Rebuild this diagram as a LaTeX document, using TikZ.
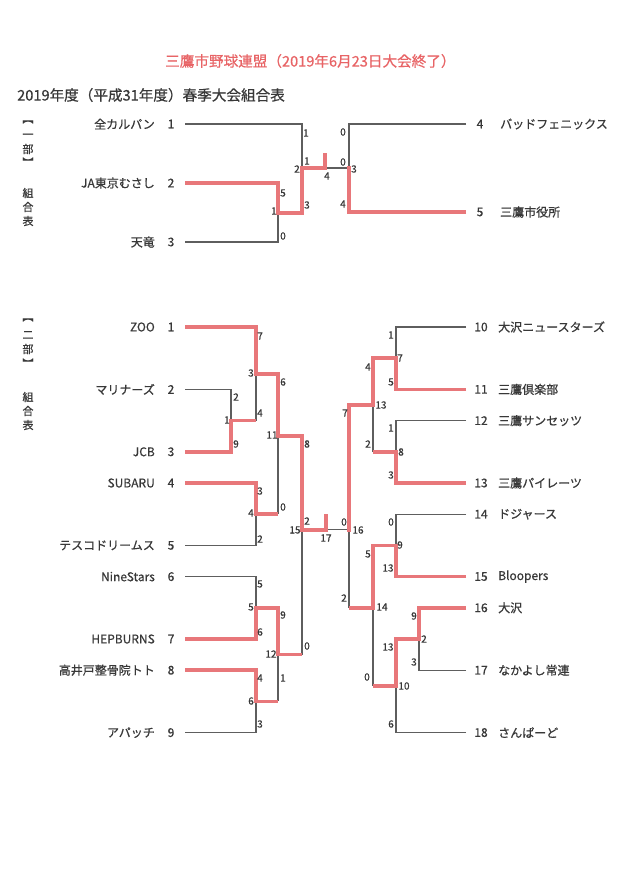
\documentclass[tikz,border=0pt]{standalone}
\usepackage{fontspec}
\newfontfamily\jp{Noto Sans CJK JP}[FakeBold=0.6]
\definecolor{redc}{HTML}{E8777A}
\definecolor{titlered}{HTML}{E86466}
\definecolor{lineg}{HTML}{5E5E5E}
\definecolor{textg}{HTML}{383838}
\begin{document}
\begin{tikzpicture}[x=1pt,y=-1pt,
  g/.style={draw=lineg,line width=1.1pt},
  r/.style={draw=redc,line width=3.6pt,line join=miter},
  team/.style={font=\jp\fontsize{12}{12}\selectfont,text=textg,inner sep=0pt},
  sc/.style={font=\jp\fontsize{10}{10}\selectfont,text=textg,inner sep=0pt},
  lab/.style={font=\jp\fontsize{11}{11}\selectfont,text=textg,inner sep=0pt}]
\fill[white] (0,0) rectangle (644,881);
\useasboundingbox (0,0) rectangle (644,881);

% titles
\node[anchor=west,inner sep=0pt,text=titlered,font=\jp\fontsize{14.6}{14.6}\selectfont] (title) at (165,61) {三鷹市野球連盟（2019年6月23日大会終了）};
\node[anchor=west,inner sep=0pt,text=textg,font=\jp\fontsize{14.6}{14.6}\selectfont] (subtitle) at (17,95) {2019年度（平成31年度）春季大会組合表};

% side labels
\node[lab] (a1) at (28,122) {︻};
\node[lab] (a2) at (28,136) {一};
\node[lab] (a3) at (28,149) {部};
\node[lab] (a4) at (28,162) {︼};
\node[lab] (a5) at (28,193) {組};
\node[lab] (a6) at (28,207) {合};
\node[lab] (a7) at (28,221) {表};
\node[lab] (b1) at (28,320) {︻};
\node[lab] (b2) at (28,335) {二};
\node[lab] (b3) at (28,349) {部};
\node[lab] (b4) at (28,363) {︼};
\node[lab] (b5) at (28,397) {組};
\node[lab] (b6) at (28,411) {合};
\node[lab] (b7) at (28,425) {表};

% ---------- section 1 ----------
\node[team,anchor=east] (n1) at (155,124) {全カルパン};
\node[team] (m1) at (171,124) {1};
\node[team,anchor=east] (n2) at (155,183) {JA東京むさし};
\node[team] (m2) at (171,183) {2};
\node[team,anchor=east] (n3) at (155,242) {天竜};
\node[team] (m3) at (171,242) {3};
\node[team] (m4) at (480,124) {4};
\node[team,anchor=west] (n4) at (500,124) {バッドフェニックス};
\node[team] (m5) at (480,212) {5};
\node[team,anchor=west] (n5) at (500,212) {三鷹市役所};

\draw[g] (185,124) -- (302,124) -- (302,168);
\draw[g] (185,242) -- (278,242) -- (278,213);
\draw[g] (325,168) -- (349,168);
\draw[g] (466,124) -- (349,124) -- (349,168);
\draw[r] (185,183) -- (278,183) -- (278,213) -- (302,213) -- (302,168) -- (325,168) -- (325,153);
\draw[r] (466,212) -- (349,212) -- (349,166.2);

\node[sc] (s101) at (306,133) {1};
\node[sc] (s102) at (297,169) {2};
\node[sc] (s103) at (307,161) {1};
\node[sc] (s104) at (307,205) {3};
\node[sc] (s105) at (327,176) {4};
\node[sc] (s106) at (283,193) {5};
\node[sc] (s107) at (274,211) {1};
\node[sc] (s108) at (283,236) {0};
\node[sc] (s109) at (343,132) {0};
\node[sc] (s110) at (343,162) {0};
\node[sc] (s111) at (354,169) {3};
\node[sc] (s112) at (343,204) {4};

% ---------- section 2 ----------
% left teams
\node[team,anchor=east] (L1) at (155,327) {ZOO};      \node[team] (l1) at (171,327) {1};
\node[team,anchor=east] (L2) at (155,389.4) {マリナーズ}; \node[team] (l2) at (171,389.4) {2};
\node[team,anchor=east] (L3) at (155,451.8) {JCB};    \node[team] (l3) at (171,451.8) {3};
\node[team,anchor=east] (L4) at (155,483) {SUBARU};   \node[team] (l4) at (171,483) {4};
\node[team,anchor=east] (L5) at (155,545.4) {テスコドリームス}; \node[team] (l5) at (171,545.4) {5};
\node[team,anchor=east] (L6) at (155,576.6) {NineStars}; \node[team] (l6) at (171,576.6) {6};
\node[team,anchor=east] (L7) at (155,639) {HEPBURNS}; \node[team] (l7) at (171,639) {7};
\node[team,anchor=east] (L8) at (155,670.2) {高井戸整骨院トト}; \node[team] (l8) at (171,670.2) {8};
\node[team,anchor=east] (L9) at (155,732.6) {アパッチ}; \node[team] (l9) at (171,732.6) {9};
% right teams
\node[team] (r10) at (481,327) {10};   \node[team,anchor=west] (R10) at (498,327) {大沢ニュースターズ};
\node[team] (r11) at (481,389.4) {11}; \node[team,anchor=west] (R11) at (498,389.4) {三鷹倶楽部};
\node[team] (r12) at (481,420.6) {12}; \node[team,anchor=west] (R12) at (498,420.6) {三鷹サンセッツ};
\node[team] (r13) at (481,483) {13};   \node[team,anchor=west] (R13) at (498,483) {三鷹パイレーツ};
\node[team] (r14) at (481,514.2) {14}; \node[team,anchor=west] (R14) at (498,514.2) {ドジャース};
\node[team] (r15) at (481,576.6) {15}; \node[team,anchor=west] (R15) at (498,576.6) {Bloopers};
\node[team] (r16) at (481,607.8) {16}; \node[team,anchor=west] (R16) at (498,607.8) {大沢};
\node[team] (r17) at (481,670.2) {17}; \node[team,anchor=west] (R17) at (498,670.2) {なかよし常連};
\node[team] (r18) at (481,732.6) {18}; \node[team,anchor=west] (R18) at (498,732.6) {さんぱーど};

% grey lines left
\draw[g] (185,389.4) -- (231,389.4) -- (231,420.6);
\draw[g] (256,373.8) -- (256,420.6);
\draw[g] (278,436.2) -- (278,514.2);
\draw[g] (185,545.4) -- (256,545.4) -- (256,514.2);
\draw[g] (185,576.6) -- (256,576.6) -- (256,607.8);
\draw[g] (185,732.6) -- (256,732.6) -- (256,701.4);
\draw[g] (278,654.6) -- (278,701.4);
\draw[g] (302,529.8) -- (302,654.6);
\draw[g] (326,529.8) -- (349,529.8);
% grey lines right
\draw[g] (466,327) -- (396,327) -- (396,358.2);
\draw[g] (466,420.6) -- (396,420.6) -- (396,451.8);
\draw[g] (373,405) -- (373,451.8);
\draw[g] (466,514.2) -- (396,514.2) -- (396,545.4);
\draw[g] (349,529.8) -- (349,607.8);
\draw[g] (373,607.8) -- (373,685.8);
\draw[g] (466,670.2) -- (419,670.2) -- (419,639);
\draw[g] (466,732.6) -- (396,732.6) -- (396,685.8);

% red lines left
\draw[r] (185,327) -- (256,327) -- (256,373.8) -- (278,373.8) -- (278,436.2) -- (302,436.2) -- (302,529.8) -- (326,529.8) -- (326,513.8);
\draw[r] (185,451.8) -- (231,451.8) -- (231,420.6) -- (256,420.6);
\draw[r] (185,483) -- (256,483) -- (256,514.2) -- (278,514.2);
\draw[r] (185,639) -- (256,639) -- (256,607.8) -- (278,607.8) -- (278,654.6) -- (302,654.6);
\draw[r] (185,670.2) -- (256,670.2) -- (256,701.4) -- (278,701.4);
% red lines right
\draw[r] (466,389.4) -- (396,389.4) -- (396,358.2) -- (373,358.2) -- (373,405) -- (349,405) -- (349,531.6);
\draw[r] (466,483) -- (396,483) -- (396,451.8) -- (373,451.8);
\draw[r] (466,576.6) -- (396,576.6) -- (396,545.4) -- (373,545.4) -- (373,607.8) -- (349,607.8);
\draw[r] (466,607.8) -- (419,607.8) -- (419,639) -- (396,639) -- (396,685.8) -- (373,685.8);

% scores left
\node[sc] (c01) at (260,336) {7};
\node[sc] (c02) at (251,373) {3};
\node[sc] (c03) at (236,397) {2};
\node[sc] (c04) at (227,420) {1};
\node[sc] (c05) at (236,444) {9};
\node[sc] (c06) at (260,413) {4};
\node[sc] (c07) at (283,382) {6};
\node[sc] (c08) at (272,435) {11};
\node[sc] (c09) at (307,444) {8};
\node[sc] (c10) at (260,491) {3};
\node[sc] (c11) at (251,513) {4};
\node[sc] (c12) at (283,507) {0};
\node[sc] (c13) at (260,539) {2};
\node[sc] (c14) at (295,530) {15};
\node[sc] (c15) at (307,521) {2};
\node[sc] (c16) at (326,538) {17};
\node[sc] (c17) at (260,584) {5};
\node[sc] (c18) at (251,607) {5};
\node[sc] (c19) at (260,632) {6};
\node[sc] (c20) at (283,615) {9};
\node[sc] (c21) at (271,654) {12};
\node[sc] (c22) at (307,646) {0};
\node[sc] (c23) at (260,678) {4};
\node[sc] (c24) at (251,701) {6};
\node[sc] (c25) at (283,678) {1};
\node[sc] (c26) at (260,724) {3};
% scores right
\node[sc] (d01) at (391,335) {1};
\node[sc] (d02) at (400,358) {7};
\node[sc] (d03) at (391,382) {5};
\node[sc] (d04) at (368,367) {4};
\node[sc] (d05) at (381,405) {13};
\node[sc] (d06) at (345,413) {7};
\node[sc] (d07) at (391,428) {1};
\node[sc] (d08) at (401,452) {8};
\node[sc] (d09) at (391,475) {3};
\node[sc] (d10) at (368,444) {2};
\node[sc] (d11) at (344,522) {0};
\node[sc] (d12) at (358,530) {16};
\node[sc] (d13) at (391,522) {0};
\node[sc] (d14) at (400,545) {9};
\node[sc] (d15) at (388,568) {13};
\node[sc] (d16) at (368,554) {5};
\node[sc] (d17) at (382,607) {14};
\node[sc] (d18) at (344,598) {2};
\node[sc] (d19) at (414,616) {9};
\node[sc] (d20) at (424,639) {2};
\node[sc] (d21) at (414,662) {3};
\node[sc] (d22) at (388,647) {13};
\node[sc] (d23) at (367,677) {0};
\node[sc] (d24) at (404,686) {10};
\node[sc] (d25) at (391,724) {6};
\end{tikzpicture}
\end{document}
